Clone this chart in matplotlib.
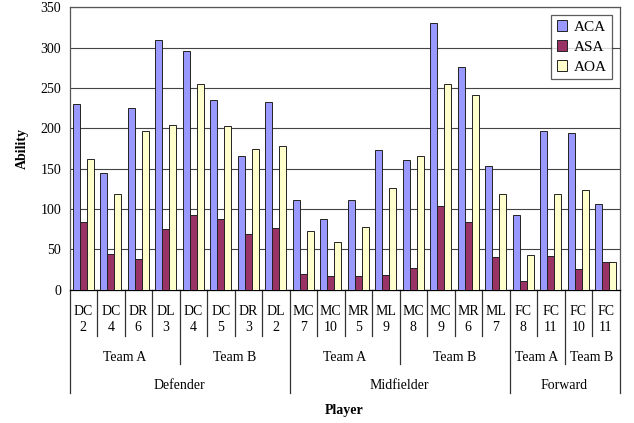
import numpy as np
import matplotlib
matplotlib.use("Agg")
import matplotlib.pyplot as plt

# data
positions = ['DC', 'DC', 'DR', 'DL', 'DC', 'DC', 'DR', 'DL',
             'MC', 'MC', 'MR', 'ML', 'MC', 'MC', 'MR', 'ML',
             'FC', 'FC', 'FC', 'FC']
numbers = [2, 4, 6, 3, 4, 5, 3, 2, 7, 10, 5, 9, 8, 9, 6, 7, 8, 11, 10, 11]
teams = ['Team A', 'Team B', 'Team A', 'Team B', 'Team A', 'Team B']
team_sizes = [4, 4, 4, 4, 2, 2]
roles = ['Defender', 'Midfielder', 'Forward']
role_sizes = [8, 8, 4]

ACA = [230, 144, 225, 310, 296, 235, 166, 232, 111, 87, 111, 173, 161, 330, 276, 153, 93, 196, 194, 106]
ASA = [84, 44, 38, 75, 93, 87, 69, 76, 19, 17, 17, 18, 27, 103, 84, 40, 10, 41, 26, 34]
AOA = [162, 119, 197, 204, 255, 203, 174, 178, 73, 59, 77, 126, 165, 255, 241, 118, 43, 119, 124, 34]

series = [('ACA', ACA, '#9999FF'), ('ASA', ASA, '#993366'), ('AOA', AOA, '#FFFFCC')]

plt.rcParams['font.family'] = ['Liberation Serif', 'DejaVu Serif']
FS = 10

W, H = 634, 423
fig = plt.figure(figsize=(W / 100, H / 100), dpi=100)
left, right, top, bottom = 69.5, 619.5, 7.3, 289.5
ax = fig.add_axes([left / W, 1 - bottom / H, (right - left) / W, (bottom - top) / H])

x = np.arange(len(ACA))
bw = 0.25
for i, (name, vals, col) in enumerate(series):
    ax.bar(x + (i - 1) * bw, vals, bw, color=col, edgecolor='#222222',
           linewidth=0.7, label=name, zorder=3)

ax.set_xlim(-0.5, len(ACA) - 0.5)
ax.set_ylim(0, 350)
ax.set_yticks(range(0, 351, 50))
ax.tick_params(axis='y', length=0, labelsize=FS, pad=6)
ax.set_xticks([])
ax.grid(axis='y', color='#444444', linewidth=0.8, zorder=0)
for s in ax.spines.values():
    s.set_color('#555555')
    s.set_linewidth(0.9)
ax.spines['bottom'].set_color('black')

leg = ax.legend(loc='upper right', fontsize=FS + 1, frameon=True, fancybox=False,
                handlelength=0.7, handleheight=0.7, handletextpad=0.4,
                borderpad=0.35, labelspacing=0.4, borderaxespad=0.5)
leg.get_frame().set_edgecolor('#333333')
leg.get_frame().set_linewidth(0.9)


def ay(py):
    # pixel row -> axes fraction
    return (bottom - py) / (bottom - top)


tr = ax.get_xaxis_transform()
edge_lc = '#333333'

# player labels and separators
for i in range(len(positions)):
    ax.text(i, ay(319.5), f"{positions[i]}\n{numbers[i]}", transform=tr,
            ha='center', va='center', fontsize=FS, linespacing=1.25)

team_bounds = np.cumsum([0] + team_sizes)
role_bounds = np.cumsum([0] + role_sizes)
for b in range(len(positions) + 1):
    xb = b - 0.5
    if b in role_bounds:
        end = 393
    elif b in team_bounds:
        end = 364
    else:
        end = 336
    ax.plot([xb, xb], [0, ay(end)], transform=tr, color=edge_lc,
            linewidth=0.9, clip_on=False)

for k, t in enumerate(teams):
    mid = (team_bounds[k] + team_bounds[k + 1]) / 2 - 0.5
    ax.text(mid, ay(357), t, transform=tr, ha='center', va='center', fontsize=FS)

for k, r in enumerate(roles):
    mid = (role_bounds[k] + role_bounds[k + 1]) / 2 - 0.5
    ax.text(mid, ay(385), r, transform=tr, ha='center', va='center', fontsize=FS)

fig.text((left + right) / 2 / W, 1 - 410 / H, 'Player', ha='center', va='center',
         fontsize=FS, fontweight='bold')
fig.text(22 / W, 1 - 148 / H, 'Ability', ha='center', va='center',
         fontsize=FS, fontweight='bold', rotation=90)

fig.savefig('out.png', dpi=100)
